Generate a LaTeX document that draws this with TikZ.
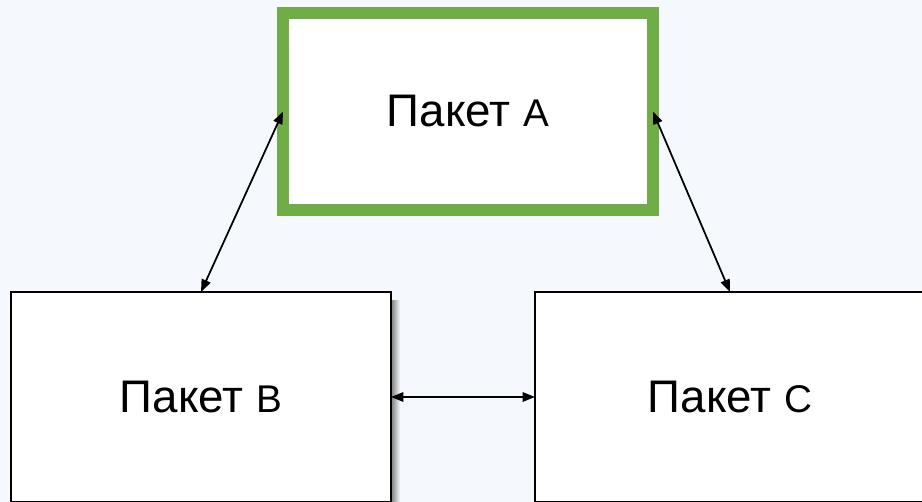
\documentclass[tikz,border=0pt]{standalone}
\usepackage{fontspec}
\setmainfont{Liberation Sans}
\usetikzlibrary{arrows.meta}
\definecolor{bgblue}{RGB}{245,249,253}
\definecolor{pkggreen}{RGB}{112,173,71}
\newcommand{\pkgletter}[1]{{\fontsize{22}{26}\selectfont #1}}

\begin{document}
\begin{tikzpicture}[x=0.02cm, y=-0.02cm, line width=1pt,
    >={Triangle[length=2.5mm,width=1.9mm]},
    pkg/.style = {draw, fill=white, line width=1.3pt, outer sep=0pt,
      minimum height=4.2cm, font=\fontsize{26}{30}\selectfont},
    main/.style = {pkg, draw=pkggreen, line width=6.8pt,
      minimum width=7.4cm, minimum height=3.94cm}]
          \fill[bgblue] (0,0) rectangle (922,502);
          \clip (0,0) rectangle (922,502);

          \node[main] (n_a) at (468,111.5) {Пакет \pkgletter{A}};
          \node[pkg, minimum width=7.6cm] (n_b) at (201,397) {Пакет \pkgletter{B}};
          \node[pkg, minimum width=7.8cm] (n_c) at (730,397) {Пакет \pkgletter{C}};

          % shadow right of B
          \shade[left color=black!45, right color=bgblue]
            ([xshift=0.65pt,yshift=-0.16cm]n_b.north east) rectangle ([xshift=0.18cm]n_b.south east);

          \draw[<->] (n_a.west) -- (n_b.north);
          \draw[<->] (n_a.east) -- (n_c.north);
          \draw[<->] (n_b.east) -- (n_c.west);
        \end{tikzpicture}
\end{document}
